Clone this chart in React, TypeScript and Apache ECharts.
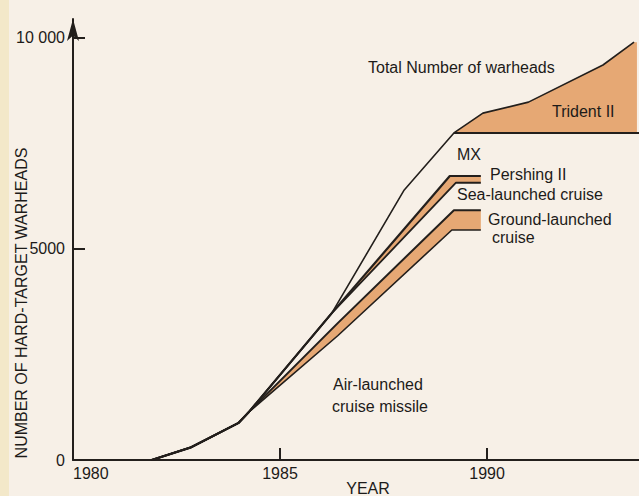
import React, { useEffect, useRef } from "react";
import * as echarts from "echarts";

// ---- Data (year, cumulative hard-target warheads) ----
const yearTicks = [1980, 1985, 1990];
const valueTicks = [0, 5000, 10000];

const commonStart = [
  [1981.9, 0],
  [1982.85, 300],
  [1984, 880],
  [1984.25, 1140],
];
// top of the air-launched cruise missile region
const alcmLine = [...commonStart, [1986.4, 2950], [1989.15, 5450], [1989.85, 5450]];
// top of ground-launched cruise band
const glcmLine = [...commonStart, [1986.4, 3250], [1989.2, 5920], [1989.85, 5920]];
// top of sea-launched cruise region
const slcmLine = [...commonStart, [1986.25, 3480], [1989.25, 6570], [1989.85, 6570]];
// top of Pershing II band
const pershingLine = [...commonStart, [1986.25, 3480], [1989.1, 6730], [1989.85, 6730]];
// total number of warheads
const totalLine = [
  ...commonStart,
  [1986.25, 3480],
  [1988, 6400],
  [1989.2, 7750],
  [1989.9, 8220],
  [1991, 8480],
  [1992.8, 9360],
  [1993.55, 9900],
];
// top of MX region / base of Trident II
const mxLine = [
  [1989.2, 7750],
  [1993.67, 7750],
];
const tridentTop = [
  [1989.2, 7750],
  [1989.9, 8220],
  [1991, 8480],
  [1992.8, 9360],
  [1993.55, 9900],
  [1993.62, 9900],
];
const tridentBase = [
  [1989.2, 7750],
  [1993.62, 7750],
];

const LINE = "#231f1c";
const ORANGE = "#e6a874";
const FAMILY = '"Liberation Sans", Arial, sans-serif';
const FONT = "16px " + FAMILY;
const TEXT = "#1d1b19";

function band(upper: number[][], lower: number[][], color: string) {
  return {
    type: "custom",
    coordinateSystem: "cartesian2d",
    silent: true,
    z: 1,
    data: [upper[0]],
    renderItem: (_params: any, api: any) => {
      const pts = [
        ...upper.map((p) => api.coord(p)),
        ...lower
          .slice()
          .reverse()
          .map((p) => api.coord(p)),
      ];
      return { type: "polygon", shape: { points: pts }, style: { fill: color } };
    },
  };
}

function line(data: number[][], width: number) {
  return {
    type: "line",
    data,
    showSymbol: false,
    silent: true,
    z: 3,
    lineStyle: { color: LINE, width, join: "round" },
  };
}

function label(text: string, left: number, top: number) {
  return { type: "text", left, top, z: 100, style: { text, font: FONT, fill: TEXT } };
}

export default function App() {
  const ref = useRef<HTMLDivElement>(null);
  useEffect(() => {
    const chart = echarts.init(ref.current!, null, { renderer: "svg" });
    chart.setOption({
      animation: false,
      backgroundColor: "#f7f0e7",
      grid: { left: 73, right: 0, top: 19, bottom: 36 },
      xAxis: {
        type: "value",
        min: 1980,
        max: 1993.67,
        interval: 5,
        axisLine: { lineStyle: { color: LINE, width: 2 } },
        axisTick: { inside: true, length: 12, customValues: [1985, 1990], lineStyle: { color: LINE, width: 2 } },
        axisLabel: {
          customValues: yearTicks,
          alignMinLabel: "left",
          margin: 5,
          color: TEXT,
          fontSize: 16,
          fontFamily: FAMILY,
          formatter: (v: number) => String(v),
        },
        splitLine: { show: false },
      },
      yAxis: {
        type: "value",
        min: 0,
        max: 10450,
        interval: 5000,
        axisLine: {
          show: true,
          symbol: ["none", "arrow"],
          symbolSize: [9, 22],
          lineStyle: { color: LINE, width: 2 },
        },
        axisTick: {
          show: true,
          inside: true,
          length: 12,
          customValues: [5000, 10000],
          lineStyle: { color: LINE, width: 2 },
        },
        axisLabel: {
          customValues: valueTicks,
          margin: 8,
          color: TEXT,
          fontSize: 16,
          fontFamily: FAMILY,
          formatter: (v: number) => (v === 10000 ? "10 000" : String(v)),
        },
        splitLine: { show: false },
      },
      graphic: [
        { type: "rect", left: 0, top: 0, z: -1, shape: { width: 9, height: 496 }, style: { fill: "#f3e8c9" } },
        label("Total Number of warheads", 368, 59),
        label("Trident II", 552, 103),
        label("MX", 457, 146),
        label("Pershing II", 490, 166),
        label("Sea-launched cruise", 457, 186),
        label("Ground-launched", 488, 211),
        label("cruise", 492, 229),
        label("Air-launched", 333, 376),
        label("cruise missile", 332, 398),
        {
          type: "text",
          x: 21,
          y: 303,
          z: 100,
          rotation: Math.PI / 2,
          style: {
            text: "NUMBER OF HARD-TARGET WARHEADS",
            font: FONT,
            fill: TEXT,
            align: "center",
            verticalAlign: "middle",
          },
        },
        {
          type: "text",
          x: 368,
          y: 488,
          z: 100,
          style: { text: "YEAR", font: FONT, fill: TEXT, align: "center", verticalAlign: "middle" },
        },
      ],
      series: [
        band(glcmLine, alcmLine, ORANGE),
        band(pershingLine, slcmLine, ORANGE),
        band(tridentTop, tridentBase, ORANGE),
        line(alcmLine, 1.6),
        line(glcmLine, 2),
        line(slcmLine, 1.8),
        line(pershingLine, 2.2),
        line(totalLine, 1.6),
        line(mxLine, 2),
      ],
    });
    return () => chart.dispose();
  }, []);
  return <div ref={ref} style={{ position: "fixed", left: 0, top: 0, width: 639, height: 496 }} />;
}
